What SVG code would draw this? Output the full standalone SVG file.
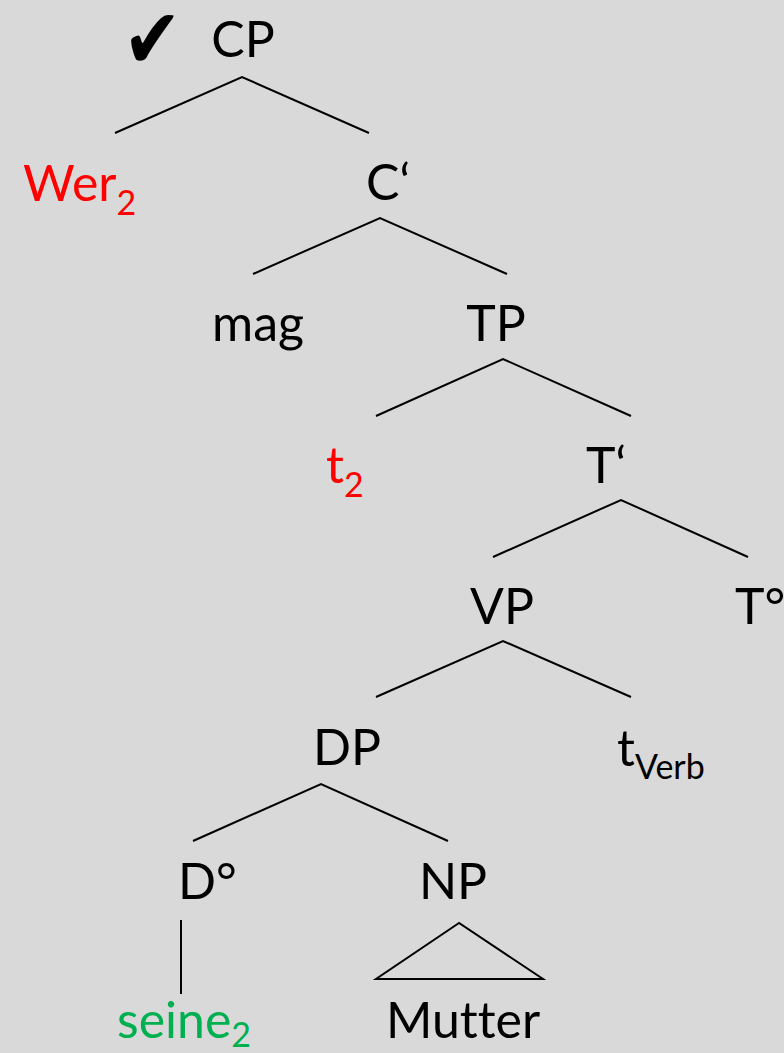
<svg xmlns="http://www.w3.org/2000/svg" width="784" height="1053" viewBox="0 0 784 1053">
<style>
text{font-family:Lato,"Open Sans","Liberation Sans",sans-serif;font-size:50px;fill:#000;font-variant-ligatures:none;font-feature-settings:"liga" 0}
.red{fill:#FF0000}
.green{fill:#00B050}
.sub{font-size:34px}
.mid{text-anchor:middle}
.edge{stroke:#000;stroke-width:2;fill:none;stroke-linejoin:miter}
.chk{font-family:"DejaVu Sans",sans-serif;font-size:70px}
</style>
<rect width="784" height="1053" fill="#D9D9D9"/>
<g id="connectors">
<polyline class="edge" points="115,133 242,77 369,133"/>
<polyline class="edge" points="253,274 380,218 507,274"/>
<polyline class="edge" points="376,416 503,359 631,416"/>
<polyline class="edge" points="493,557 621,500 748,557"/>
<polyline class="edge" points="376,697 503,641 631,697"/>
<polyline class="edge" points="193,841 321,784 448,841"/>
<line class="edge" x1="181" y1="920" x2="181" y2="994"/>
<polygon class="edge" points="459,923 376,979 543,979"/>
</g>
<g id="check"><text class="chk" transform="translate(123,67.5) scale(1,1.2)" x="0" y="0">✔</text></g>
<g id="CP"><text class="mid" x="243" y="57">CP</text></g>
<g id="Wer"><text class="red" x="23" y="201">Wer<tspan class="sub" dy="14">2</tspan></text></g>
<g id="Cbar"><text x="366" y="200">C‘</text></g>
<g id="mag"><text class="mid" x="258" y="341">mag</text></g>
<g id="TP"><text class="mid" x="496" y="341">TP</text></g>
<g id="t2"><text class="red" x="326" y="483">t<tspan class="sub" dy="14">2</tspan></text></g>
<g id="Tbar"><text x="586" y="483">T‘</text></g>
<g id="VP"><text class="mid" x="502" y="624">VP</text></g>
<g id="T0"><text x="735" y="624">T°</text></g>
<g id="DP"><text class="mid" x="347" y="765">DP</text></g>
<g id="tVerb"><text x="617" y="766">t<tspan class="sub" dy="13">Verb</tspan></text></g>
<g id="D0"><text x="178" y="899">D°</text></g>
<g id="NP"><text class="mid" x="453" y="899">NP</text></g>
<g id="seine"><text class="green" x="117" y="1038">seine<tspan class="sub" dy="9">2</tspan></text></g>
<g id="Mutter"><text class="mid" x="463" y="1038">Mutter</text></g>
</svg>
